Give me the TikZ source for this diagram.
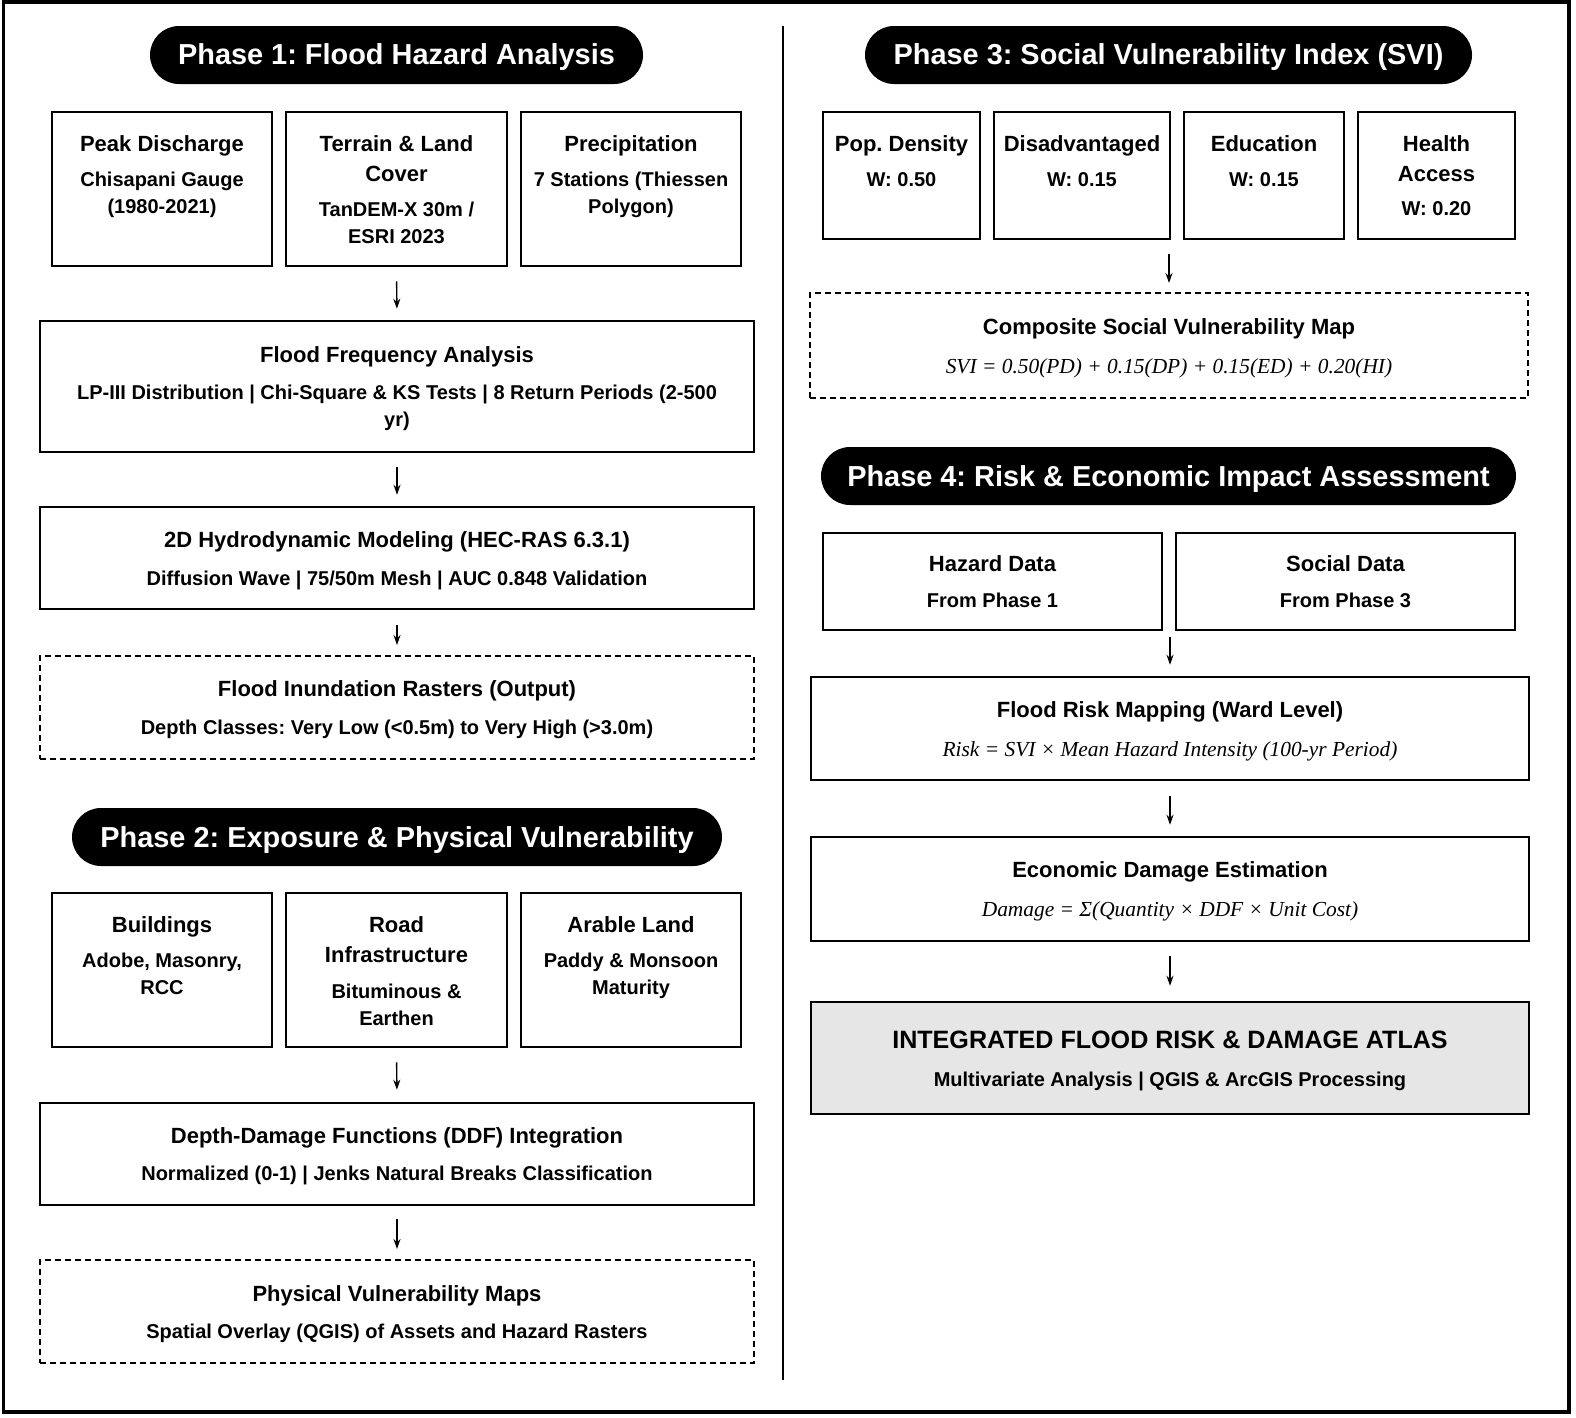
\documentclass[tikz,border=0pt]{standalone}
\usepackage{fontspec}
\setmainfont{Liberation Sans}
\newfontfamily\formfont{Liberation Serif}
\usetikzlibrary{arrows.meta}
\definecolor{atlasgray}{RGB}{230,230,230}
\frenchspacing
\tikzset{
  box/.style={draw=black, line width=2.5pt, fill=white, inner sep=0pt},
  dbox/.style={draw=black, line width=2pt, dash pattern=on 6pt off 4pt, inner sep=0pt},
  pill/.style={fill=black, rounded corners=29pt, inner sep=0pt, minimum height=58pt},
  ttl/.style={anchor=base, inner sep=0pt, text=white, font=\bfseries\fontsize{28.9}{34}\selectfont},
  hd/.style={anchor=north, inner sep=0pt, align=center, font=\bfseries\fontsize{22}{29.5}\selectfont},
  sb/.style={anchor=north, inner sep=0pt, align=center, font=\bfseries\fontsize{20}{27}\selectfont},
  fm/.style={anchor=north, inner sep=0pt, font=\formfont\itshape\fontsize{21.4}{24}\selectfont},
  arr/.style={-{Stealth[length=10pt,width=7pt]}, line width=1.4pt, shorten <=14pt, shorten >=11pt},
}
\begin{document}
\begin{tikzpicture}[x=1pt,y=-1pt]
\useasboundingbox (0,0) rectangle (1576,1417);
% frame and divider
\draw[line width=3.5pt] (3.5,2) rectangle (1569,1412);
\draw[line width=2pt] (783,26) -- (783,1380);

% ================= Phase 1 =================
\node[pill, minimum width=493pt] (p1) at (396.5,55) {};
\node[ttl] (p1t) at (396.5,64.5) {Phase 1: Flood Hazard Analysis};

\node[box, minimum width=220pt, minimum height=154pt] (pk) at (162,189) {};
\node[hd] (pkh) at (162,135.5) {Peak Discharge};
\node[sb] (pks) at (162,172) {Chisapani Gauge\\(1980-2021)};

\node[box, minimum width=221pt, minimum height=154pt] (tr) at (396.5,189) {};
\node[hd] (trh) at (396.5,135.5) {Terrain \& Land\\Cover};
\node[sb] (trs) at (396.5,202) {TanDEM-X 30m /\\ESRI 2023};

\node[box, minimum width=220pt, minimum height=154pt] (pr) at (631,189) {};
\node[hd] (prh) at (631,135.5) {Precipitation};
\node[sb] (prs) at (631,172) {7 Stations (Thiessen\\Polygon)};

\node[box, minimum width=714pt, minimum height=131pt] (ffa) at (397,386.5) {};
\node[hd] (ffah) at (397,346.5) {Flood Frequency Analysis};
\node[sb] (ffas) at (397,385) {LP-III Distribution | Chi-Square \& KS Tests | 8 Return Periods (2-500\\yr)};

\node[box, minimum width=714pt, minimum height=102pt] (hyd) at (397,558) {};
\node[hd] (hydh) at (397,531.5) {2D Hydrodynamic Modeling (HEC-RAS 6.3.1)};
\node[sb] (hyds) at (397,571) {Diffusion Wave | 75/50m Mesh | AUC 0.848 Validation};

\node[dbox, minimum width=714pt, minimum height=103pt] (inu) at (397,707.5) {};
\node[hd] (inuh) at (397,680.5) {Flood Inundation Rasters (Output)};
\node[sb] (inus) at (397,720) {Depth Classes: Very Low (<0.5m) to Very High (>3.0m)};

\draw[arr] (tr.south) -- (ffa.north);
\draw[arr] (ffa.south) -- (hyd.north);
\draw[arr, shorten <=15pt, shorten >=10pt] (hyd.south) -- (inu.north);

% ================= Phase 2 =================
\node[pill, minimum width=650pt] (p2) at (397,837) {};
\node[ttl] (p2t) at (397,847) {Phase 2: Exposure \& Physical Vulnerability};

\node[box, minimum width=220pt, minimum height=154pt] (bd) at (162,970) {};
\node[hd] (bdh) at (162,916.5) {Buildings};
\node[sb] (bds) at (162,953) {Adobe, Masonry,\\RCC};

\node[box, minimum width=221pt, minimum height=154pt] (rd) at (396.5,970) {};
\node[hd] (rdh) at (396.5,916.5) {Road\\Infrastructure};
\node[sb] (rds) at (396.5,984) {Bituminous \&\\Earthen};

\node[box, minimum width=220pt, minimum height=154pt] (al) at (631,970) {};
\node[hd] (alh) at (631,916.5) {Arable Land};
\node[sb] (als) at (631,953) {Paddy \& Monsoon\\Maturity};

\node[box, minimum width=714pt, minimum height=102pt] (ddf) at (397,1154) {};
\node[hd] (ddfh) at (397,1127.5) {Depth-Damage Functions (DDF) Integration};
\node[sb] (ddfs) at (397,1166) {Normalized (0-1) | Jenks Natural Breaks Classification};

\node[dbox, minimum width=714pt, minimum height=103pt] (phy) at (397,1311.5) {};
\node[hd] (phyh) at (397,1285.5) {Physical Vulnerability Maps};
\node[sb] (phys) at (397,1324) {Spatial Overlay (QGIS) of Assets and Hazard Rasters};

\draw[arr, shorten >=12pt] (rd.south) -- (ddf.north);
\draw[arr, shorten <=13pt, shorten >=10pt] (ddf.south) -- (phy.north);

% ================= Phase 3 =================
\node[pill, minimum width=607pt] (p3) at (1168.5,55) {};
\node[ttl] (p3t) at (1168.5,64.5) {Phase 3: Social Vulnerability Index (SVI)};

\node[box, minimum width=157pt, minimum height=127pt] (pd) at (901.5,175.5) {};
\node[hd] (pdh) at (901.5,135.5) {Pop. Density};
\node[sb] (pds) at (901.5,172) {W: 0.50};

\node[box, minimum width=176pt, minimum height=127pt] (da) at (1082,175.5) {};
\node[hd] (dah) at (1082,135.5) {Disadvantaged};
\node[sb] (das) at (1082,172) {W: 0.15};

\node[box, minimum width=160pt, minimum height=127pt] (ed) at (1264,175.5) {};
\node[hd] (edh) at (1264,135.5) {Education};
\node[sb] (eds) at (1264,172) {W: 0.15};

\node[box, minimum width=157pt, minimum height=127pt] (ha) at (1436.5,175.5) {};
\node[hd] (hah) at (1436.5,135.5) {Health\\Access};
\node[sb] (has) at (1436.5,201) {W: 0.20};

\coordinate (p3row) at (1169,239);
\node[dbox, minimum width=718pt, minimum height=105pt] (svi) at (1169,345.5) {};
\node[hd] (svih) at (1169,318.5) {Composite Social Vulnerability Map};
\node[fm] (svif) at (1169,358) {SVI = 0.50(PD) + 0.15(DP) + 0.15(ED) + 0.20(HI)};

\draw[arr, shorten <=15pt, shorten >=9pt] (p3row) -- (svi.north);

% ================= Phase 4 =================
\node[pill, minimum width=695pt] (p4) at (1168.5,476) {};
\node[ttl] (p4t) at (1168.5,486) {Phase 4: Risk \& Economic Impact Assessment};

\node[box, minimum width=339pt, minimum height=97pt] (hz) at (992.5,581.5) {};
\node[hd] (hzh) at (992.5,555.5) {Hazard Data};
\node[sb] (hzs) at (992.5,593) {From Phase 1};

\node[box, minimum width=339pt, minimum height=97pt] (sd) at (1345.5,581.5) {};
\node[hd] (sdh) at (1345.5,555.5) {Social Data};
\node[sb] (sds) at (1345.5,593) {From Phase 3};

\coordinate (p4row) at (1170,630);
\node[box, minimum width=718pt, minimum height=103pt] (rk) at (1170,728.5) {};
\node[hd] (rkh) at (1170,701.5) {Flood Risk Mapping (Ward Level)};
\node[fm] (rkf) at (1170,741) {Risk = SVI × Mean Hazard Intensity (100-yr Period)};

\node[box, minimum width=718pt, minimum height=104pt] (ec) at (1170,889) {};
\node[hd] (ech) at (1170,861.5) {Economic Damage Estimation};
\node[fm] (ecf) at (1170,901) {Damage = Σ(Quantity × DDF × Unit Cost)};

\node[box, fill=atlasgray, minimum width=718pt, minimum height=112pt] (at) at (1170,1058) {};
\node[hd, font=\bfseries\fontsize{25.1}{29}\selectfont] (ath) at (1170,1031) {INTEGRATED FLOOD RISK \& DAMAGE ATLAS};
\node[sb] (ats) at (1170,1072) {Multivariate Analysis | QGIS \& ArcGIS Processing};

\draw[arr, shorten <=7pt, shorten >=11pt] (p4row) -- (rk.north);
\draw[arr, shorten <=15pt] (rk.south) -- (ec.north);
\draw[arr, shorten >=15pt] (ec.south) -- (at.north);
\end{tikzpicture}
\end{document}
